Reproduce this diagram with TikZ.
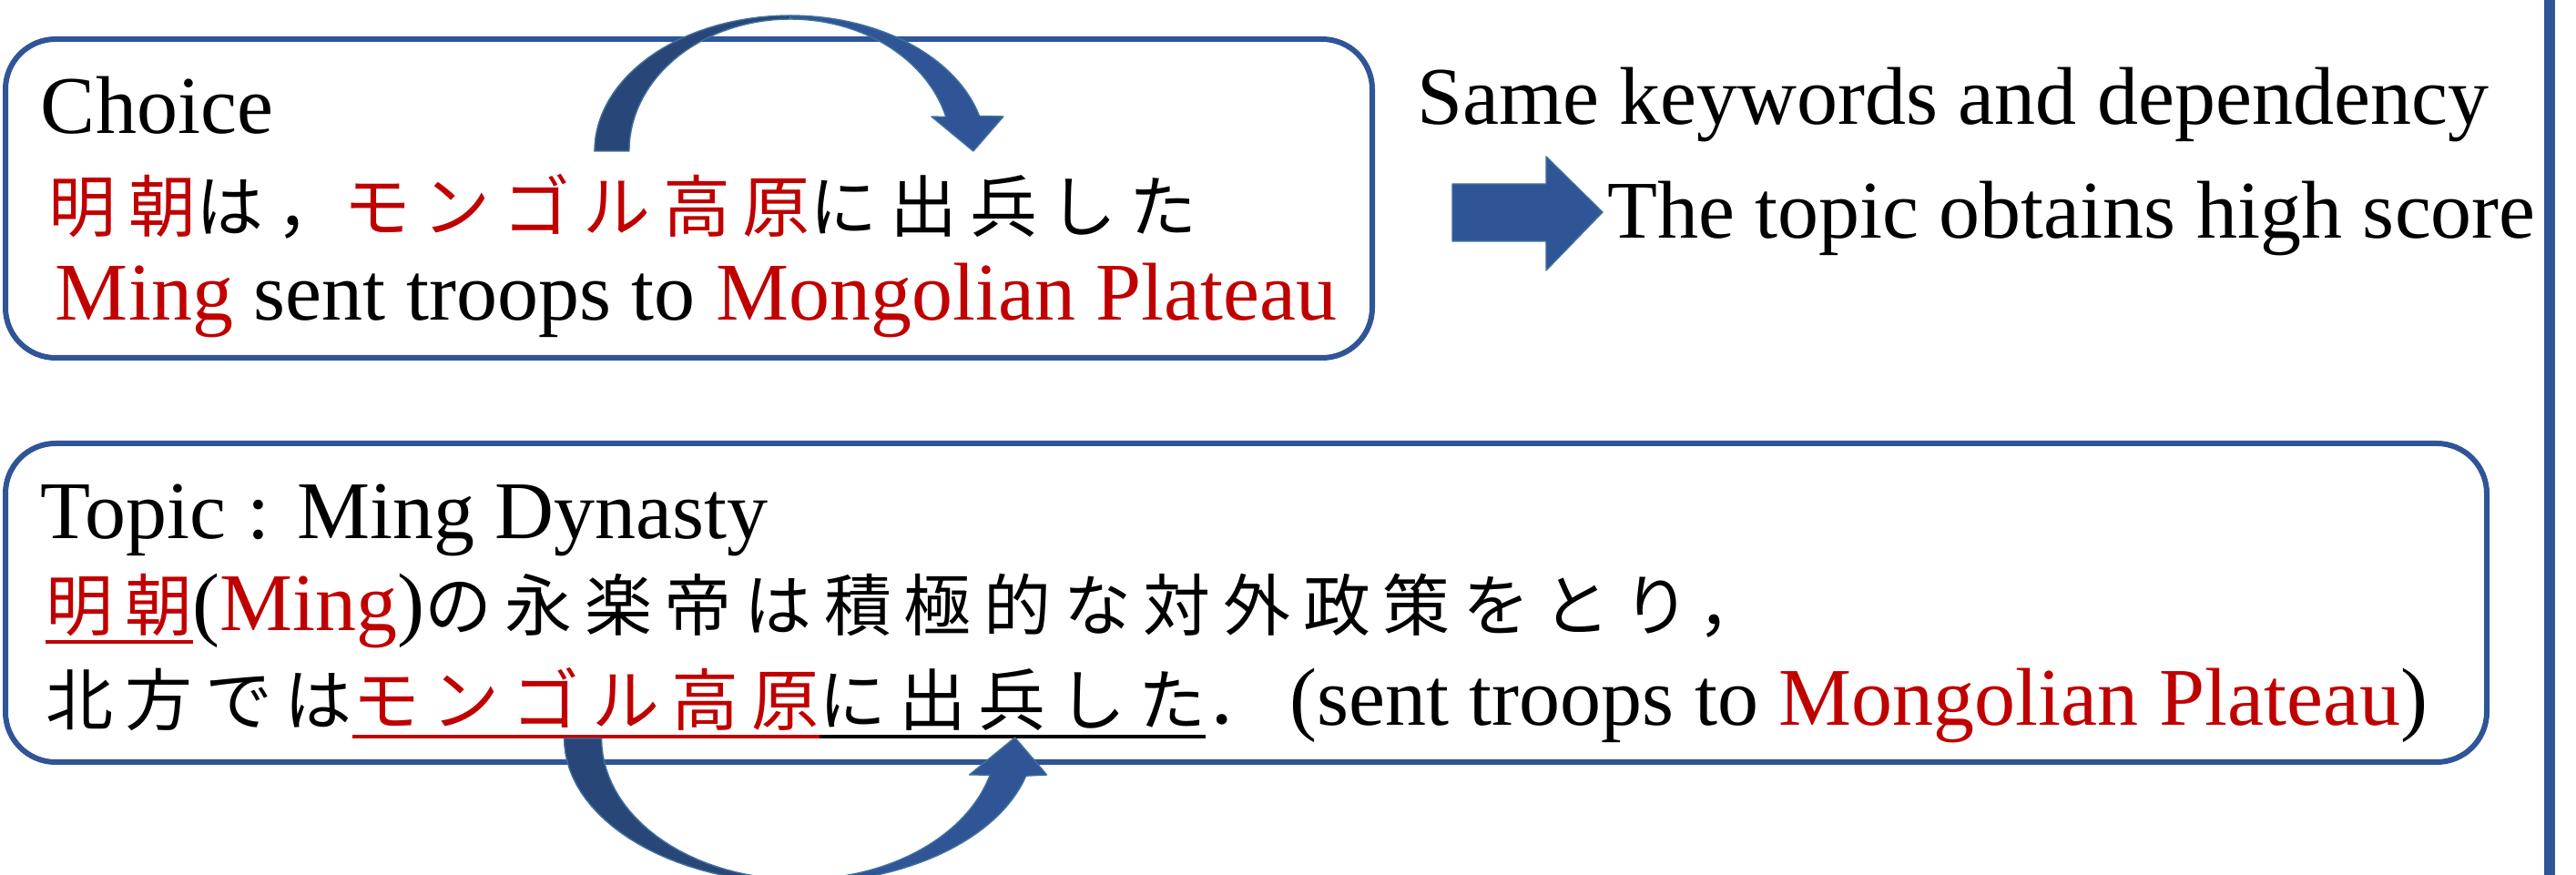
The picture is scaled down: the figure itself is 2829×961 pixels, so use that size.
\documentclass[tikz,border=0pt]{standalone}
\usepackage{fontspec}
\usetikzlibrary{calc}
\setmainfont{Liberation Serif}
\newfontfamily\jpfont[LetterSpace=18.5]{Noto Sans CJK JP}
\definecolor{frameblue}{HTML}{2F5597}
\definecolor{backblue}{HTML}{284778}
\definecolor{edgeblue}{HTML}{41719C}
\definecolor{keyred}{HTML}{C00000}
\newcommand{\jp}[1]{{\jpfont\fontsize{37}{44}\selectfont #1}}

\begin{document}
\begin{tikzpicture}[x=0.5pt,y=-0.5pt]
    \tikzstyle{every node}=[font=\fontsize{45}{54}\selectfont, inner sep=0pt, outer sep=0pt, anchor=base west]
    \tikzstyle{frame}=[draw=frameblue, line width=3pt, rounded corners=27.5pt]
    \tikzstyle{frontarrow}=[fill=frameblue, draw=edgeblue, line width=0.7pt, line join=round]
    \tikzstyle{backarrow}=[fill=backblue, draw=edgeblue, line width=0.7pt, line join=round]
    \tikzstyle{keyline}=[line width=2pt]
    \useasboundingbox (0,0) rectangle (2829,961);
    % Boxes and the separator on the right
    \draw[frame] (6,43) rectangle (1507,393);
    \draw[frame] (6,487) rectangle (2731,837);
    \draw[frameblue, line width=6pt] (2800,0) -- (2800,961);

    % Choice
    \node (choice) at (45,147) {Choice};
    \node[text=keyred] (cja) at (54,255) {\jp{明朝}};
    \node (cjb) at (cja.base east) {\jp{は，}};
    \node[text=keyred] (cjc) at (cjb.base east) {\jp{モンゴル高原}};
    \node (cjd) at (cjc.base east) {\jp{に出兵した}};
    \node (cen) at (61,352) {\textcolor{keyred}{Ming} sent troops to \textcolor{keyred}{Mongolian Plateau}};

    % Result
    \node (same) at (1556,137) {Same keywords and dependency};
    \node (score) at (1765,262) {The topic obtains high score};
    \path[frontarrow] (1595,202) -- (1698,202) -- (1698,172) -- (1760,233) -- (1698,297) -- (1698,265) -- (1595,265) -- cycle;

    % Topic
    \node (topic) at (45,592) {Topic : Ming Dynasty};
    \node[text=keyred] (tja) at (50,693) {\jp{明朝}};
    \node (tjb) at (tja.base east) {(\textcolor{keyred}{Ming})\jp{の永楽帝は積極的な対外政策をとり，}};
    \node (tka) at (50,797) {\jp{北方では}};
    \node[text=keyred] (tkb) at (tka.base east) {\jp{モンゴル高原}};
    \node (tkc) at (tkb.base east) {\jp{に出兵した}};
    \node (tkd) at (tkc.base east) {\jp{．}\hspace{9pt}(sent troops to \textcolor{keyred}{Mongolian Plateau})};

    % Underlines
    \draw[keyred, keyline] ([yshift=-6pt]tja.base west) -- ([yshift=-6pt]tja.base east);
    \draw[keyred, keyline] ([yshift=-6pt]tkb.base west) -- ([yshift=-6pt]tkb.base east);
    \draw[keyline] ([yshift=-6pt]tkc.base west) -- ([yshift=-6pt]tkc.base east);

    % Curved arrows
    \coordinate (cjmid) at ($(cjc.base)!0.5!(cjd.base)$);
    \begin{scope}[shift={($(cjmid)+(0,-89)$)}]
      \path[backarrow] plot[domain=180:90,samples=30] ({215*cos(\x)},{-149*sin(\x)}) -- plot[domain=90:180,samples=30] ({177*cos(\x)},{-145*sin(\x)}) -- cycle;
      \path[frontarrow] plot[domain=90:15,samples=30] ({215*cos(\x)},{-149*sin(\x)}) -- (234,-38) -- (201,0) -- (155,-38) -- plot[domain=15:90,samples=30] ({177*cos(\x)},{-145*sin(\x)}) -- cycle;
    \end{scope}
    \coordinate (tkmid) at ($(tkb.base)!0.5!(tkc.base)$);
    \begin{scope}[shift={($(tkmid)+(0,14)$)}]
      \path[backarrow] plot[domain=180:90,samples=30] ({258*cos(\x)},{159*sin(\x)}) -- plot[domain=90:180,samples=30] ({217*cos(\x)},{155*sin(\x)}) -- cycle;
      \path[frontarrow] plot[domain=90:15,samples=30] ({258*cos(\x)},{159*sin(\x)}) -- (272,40) -- (237,-1) -- (187,40) -- plot[domain=15:90,samples=30] ({217*cos(\x)},{155*sin(\x)}) -- cycle;
    \end{scope}
\end{tikzpicture}
\end{document}
